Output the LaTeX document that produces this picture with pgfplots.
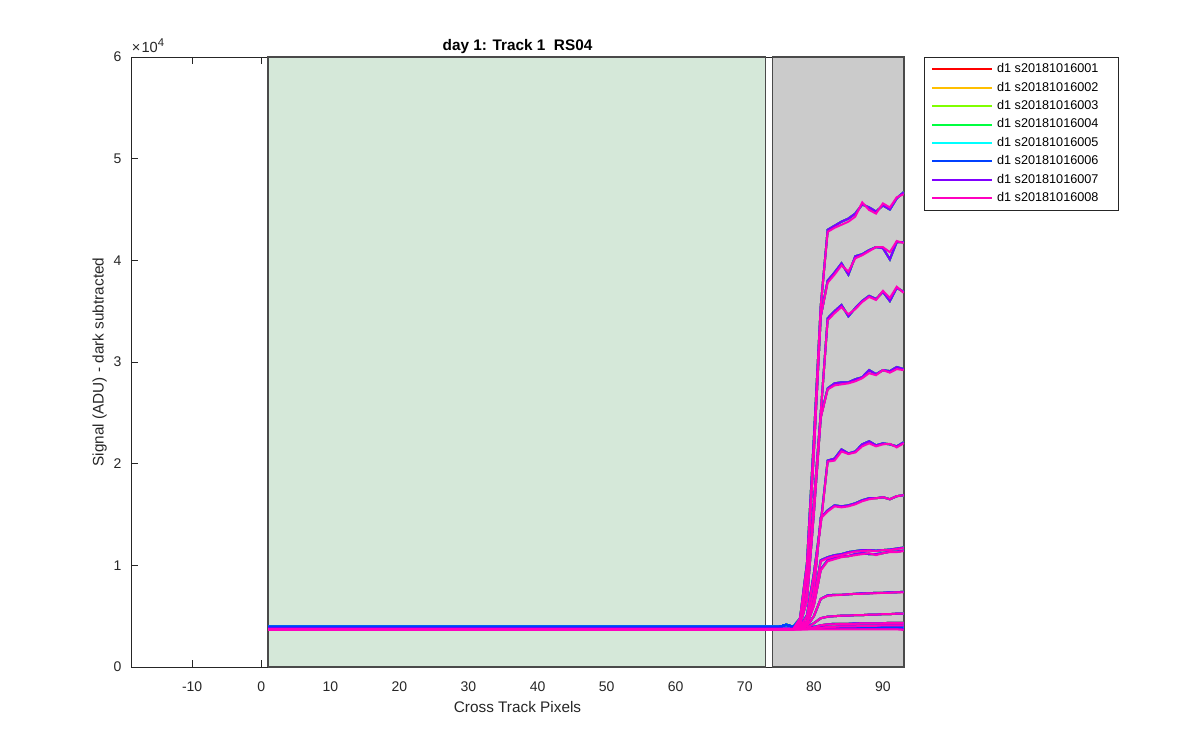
\documentclass[border=0pt]{standalone}
\usepackage{fontspec}
\setmainfont{Liberation Sans}
\usepackage{pgfplots}
\pgfplotsset{compat=1.18}
\usepackage{pgfplotstable}

\definecolor{s1}{HTML}{FF0000}
\definecolor{s2}{HTML}{FFBF00}
\definecolor{s3}{HTML}{80FF00}
\definecolor{s4}{HTML}{00FF40}
\definecolor{s5}{HTML}{00FFFF}
\definecolor{s6}{HTML}{0040FF}
\definecolor{s7}{HTML}{8000FF}
\definecolor{s8}{HTML}{FF00BF}
\definecolor{axc}{HTML}{262626}
\definecolor{greenbg}{HTML}{D5E8D9}
\definecolor{graybg}{HTML}{CBCBCB}
\definecolor{edgec}{HTML}{4A4A4A}

% magenta (series 8)
\pgfplotstableread{
x c1 c2 c3 c4 c5 c6 c7 c8 c9 c10 c11 c12 c13
1 3700 3700 3700 3700 3700 3700 3700 3700 3700 3700 3700 3700 3700
10 3700 3700 3700 3700 3700 3700 3700 3700 3700 3700 3700 3700 3700
20 3700 3700 3700 3700 3700 3700 3700 3700 3700 3700 3700 3700 3700
30 3700 3700 3700 3700 3700 3700 3700 3700 3700 3700 3700 3700 3700
40 3700 3700 3700 3700 3700 3700 3700 3700 3700 3700 3700 3700 3700
50 3700 3700 3700 3700 3700 3700 3700 3700 3700 3700 3700 3700 3700
60 3700 3700 3700 3700 3700 3700 3700 3700 3700 3700 3700 3700 3700
70 3700 3700 3700 3700 3700 3700 3700 3700 3700 3700 3700 3700 3700
75 3700 3700 3700 3700 3700 3700 3700 3700 3700 3700 3700 3700 3700
76 3700 3700 3700 3700 3700 3700 3700 3700 3700 3700 3700 3700 3700
77 3700 3700 3700 3700 3700 3700 3700 3700 3700 3700 3700 3700 3700
78 4800 4600 4400 4100 3900 3900 3800 3800 3750 3700 3700 3700 3700
79 10000 9000 7500 6500 5000 4500 4300 4200 4000 3800 3750 3700 3700
80 22000 21000 16000 15000 9000 7500 6500 6000 5000 4300 3900 3800 3700
81 35500 34500 25000 24500 14000 14600 10400 9500 6700 4800 4100 3850 3700
82 42800 37800 34100 27300 20200 15300 10700 10400 7000 4950 4200 3950 3700
83 43200 38600 34800 27700 20300 15800 10900 10600 7050 5000 4200 3950 3700
84 43500 39500 35400 27800 21200 15700 11000 10800 7100 5050 4250 4000 3700
85 43800 38900 34700 27900 20950 15800 11200 10900 7150 5050 4250 4000 3700
86 44300 40200 35200 28100 21100 16000 11350 11000 7200 5100 4250 4000 3700
87 45700 40500 35900 28400 21700 16300 11400 11100 7200 5100 4300 4050 3700
88 44950 40900 36400 28900 22000 16500 11450 11200 7250 5150 4300 4050 3700
89 44600 41300 36100 28700 21700 16600 11400 11000 7250 5150 4300 4050 3700
90 45600 41300 37000 29200 21900 16700 11500 11200 7300 5200 4300 4100 3700
91 45200 40800 36300 28950 21950 16500 11500 11300 7300 5200 4350 4100 3700
92 46200 41900 37400 29300 21600 16800 11600 11300 7350 5250 4350 4100 3700
93 46500 41700 36800 29200 22000 16900 11700 11400 7350 5250 4350 4100 3650
}\tabM

% purple (series 7)
\pgfplotstableread{
x c1 c2 c3 c4 c5 c6 c7 c8 c9 c10 c11 c12 c13
1 3750 3750 3750 3750 3750 3750 3750 3750 3750 3750 3750 3750 3750
10 3750 3750 3750 3750 3750 3750 3750 3750 3750 3750 3750 3750 3750
20 3750 3750 3750 3750 3750 3750 3750 3750 3750 3750 3750 3750 3750
30 3750 3750 3750 3750 3750 3750 3750 3750 3750 3750 3750 3750 3750
40 3750 3750 3750 3750 3750 3750 3750 3750 3750 3750 3750 3750 3750
50 3750 3750 3750 3750 3750 3750 3750 3750 3750 3750 3750 3750 3750
60 3750 3750 3750 3750 3750 3750 3750 3750 3750 3750 3750 3750 3750
70 3750 3750 3750 3750 3750 3750 3750 3750 3750 3750 3750 3750 3750
75 3750 3750 3750 3750 3750 3750 3750 3750 3750 3750 3750 3750 3750
76 3750 3750 3750 3750 3750 3750 3750 3750 3750 3750 3750 3750 3750
77 3750 3750 3750 3750 3750 3750 3750 3750 3750 3750 3750 3750 3750
78 4800 4600 4400 4100 3900 3900 3800 3800 3750 3750 3750 3750 3750
79 10200 9200 7600 6600 5100 4500 4300 4200 4000 3800 3750 3750 3750
80 22500 21200 16200 15200 9200 7600 6600 6100 5000 4300 3900 3800 3750
81 35500 34500 25000 24600 14200 14700 10500 9600 6700 4800 4100 3850 3750
82 43000 38000 34300 27400 20300 15400 10800 10500 7050 4950 4200 3950 3750
83 43400 38800 35000 27900 20500 15900 11000 10700 7100 5000 4250 3950 3750
84 43800 39700 35600 28000 21400 15800 11100 10900 7100 5050 4250 4000 3750
85 44100 38600 34500 28000 21000 15900 11300 10900 7150 5050 4250 4000 3750
86 44600 40400 35300 28300 21200 16100 11400 11100 7200 5100 4300 4000 3750
87 45500 40600 36000 28500 21900 16400 11500 11200 7250 5100 4300 4050 3750
88 45200 41000 36500 29200 22200 16600 11500 11100 7250 5150 4300 4050 3750
89 44800 41300 36200 28800 21800 16600 11450 11100 7300 5150 4300 4050 3750
90 45400 41200 36900 29200 22000 16700 11500 11200 7300 5200 4300 4100 3750
91 45000 40100 36000 29100 21900 16500 11550 11350 7350 5200 4350 4100 3750
92 46100 41800 37300 29500 21700 16800 11650 11350 7350 5250 4350 4100 3750
93 46700 41800 36900 29300 22100 16900 11750 11450 7400 5250 4350 4100 3750
}\tabP

% series 1-6
\pgfplotstableread{
x c1 c2 c3 c4 c5 c6 c7 c8 c9 c10 c11 c12 c13
1 3950 3950 3950 3950 3950 3950 3950 3950 3950 3950 3950 3950 3950
10 3950 3950 3950 3950 3950 3950 3950 3950 3950 3950 3950 3950 3950
20 3950 3950 3950 3950 3950 3950 3950 3950 3950 3950 3950 3950 3950
30 3950 3950 3950 3950 3950 3950 3950 3950 3950 3950 3950 3950 3950
40 3950 3950 3950 3950 3950 3950 3950 3950 3950 3950 3950 3950 3950
50 3950 3950 3950 3950 3950 3950 3950 3950 3950 3950 3950 3950 3950
60 3950 3950 3950 3950 3950 3950 3950 3950 3950 3950 3950 3950 3950
70 3950 3950 3950 3950 3950 3950 3950 3950 3950 3950 3950 3950 3950
75 3950 3950 3950 3950 3950 3950 3950 3950 3950 3950 3950 3950 3950
76 4150 4150 4150 4150 4150 4150 4150 4150 4150 4150 4150 4150 4150
77 3950 3950 3950 3950 3950 3950 3950 3950 3950 3950 3950 3950 3950
78 4800 4600 4400 4100 3950 3950 3950 3950 3950 3950 3950 3950 3950
79 10200 9200 7600 6600 5100 4500 4300 4200 4000 3950 3950 3950 3950
80 22500 21200 16200 15200 9200 7600 6600 6100 5000 4300 3950 3950 3950
81 35500 34500 25000 24600 14200 14700 10500 9600 6700 4800 4100 3950 3950
82 43000 38000 34300 27400 20300 15400 10800 10500 7050 4950 4200 3950 3950
83 43400 38800 35000 27900 20500 15900 11000 10700 7100 5000 4250 3950 3950
84 43800 39700 35600 28000 21400 15800 11100 10900 7100 5050 4250 4000 3950
85 44100 38600 34500 28000 21000 15900 11300 10900 7150 5050 4250 4000 3950
86 44600 40400 35300 28300 21200 16100 11400 11100 7200 5100 4300 4000 3950
87 45500 40600 36000 28500 21900 16400 11500 11200 7250 5100 4300 4050 3950
88 45200 41000 36500 29200 22200 16600 11500 11100 7250 5150 4300 4050 3950
89 44800 41300 36200 28800 21800 16600 11450 11100 7300 5150 4300 4050 3950
90 45400 41200 36900 29200 22000 16700 11500 11200 7300 5200 4300 4100 3950
91 45000 40100 36000 29100 21900 16500 11550 11350 7350 5200 4350 4100 3950
92 46100 41800 37300 29500 21700 16800 11650 11350 7350 5250 4350 4100 3950
93 46700 41800 36900 29300 22100 16900 11750 11450 7400 5250 4350 4100 3950
}\tabB

\newcommand{\series}[3]{%
  \addplot[#1, line width=1.5pt] table[x=x,y=c1]{#2};
  \addlegendentry{\makebox[86pt][l]{#3}}
  \pgfplotsinvokeforeach{2,...,13}{%
    \addplot[#1, line width=1.5pt, forget plot] table[x=x,y=c##1]{#2};
  }%
}

\begin{document}
\begin{tikzpicture}
\path[use as bounding box] (0,0) rectangle (900pt,562.5pt);
\begin{axis}[
  at={(98.25pt,62.25pt)}, anchor=south west,
  scale only axis, width=579.75pt, height=457.5pt,
  xmin=-18.85, xmax=93.05, ymin=0, ymax=60000,
  clip=false,
  xtick={-10,0,10,20,30,40,50,60,70,80,90},
  xticklabels={-10,0,10,20,30,40,50,60,70,80,90},
  ytick={0,10000,20000,30000,40000,50000,60000},
  yticklabels={0,1,2,3,4,5,6},
  scaled y ticks=false,
  tick align=inside,
  major tick length=5.5pt,
  tick style={axc, line width=0.6pt},
  axis line style={axc, line width=0.6pt},
  xticklabel style={font=\fontsize{10.5}{12}\selectfont, text=axc, inner sep=0pt, anchor=north, yshift=-10.5pt},
  yticklabel style={font=\fontsize{10.5}{12}\selectfont, text=axc, inner sep=0pt, anchor=east, xshift=-7pt},
  xlabel={Cross Track Pixels},
  ylabel={Signal (ADU) - dark subtracted},
  xlabel style={at={(axis description cs:0.5,0)}, anchor=base, yshift=-34pt, inner sep=0pt, font=\fontsize{11.5}{13}\selectfont, text=axc},
  ylabel style={at={(axis description cs:-0.0355,0.5)}, anchor=base, inner sep=0pt, font=\fontsize{11.5}{13}\selectfont, text=axc},
  title={day 1: Track 1~~RS04},
  every axis title shift=0pt,
  title style={at={(axis description cs:0.5,1)}, anchor=base, yshift=4.8pt, inner sep=0pt, font=\fontsize{11.5}{13}\selectfont\bfseries, text=black},
  legend style={at={(1.0259,1)}, anchor=north west, draw=axc, line width=0.6pt, fill=white,
    inner xsep=5pt, inner ysep=4.25pt, row sep=4.3pt, column sep=3pt,
    font=\fontsize{9.5}{11}\selectfont, text=black,
    nodes={inner sep=0pt, text height=7.2pt, text depth=2.3pt},
    cells={anchor=west}},
  legend image code/.code={\draw[#1] (0pt,0pt) -- (45pt,0pt);},
]
\addplot[fill=greenbg, draw=edgec, line width=1pt, forget plot] coordinates {(1,0) (1,60000) (73,60000) (73,0) (1,0)};
\addplot[fill=graybg, draw=edgec, line width=1pt, forget plot] coordinates {(74,0) (74,60000) (93.05,60000) (93.05,0) (74,0)};

\series{s1}{\tabB}{d1 s20181016001}
\series{s2}{\tabB}{d1 s20181016002}
\series{s3}{\tabB}{d1 s20181016003}
\series{s4}{\tabB}{d1 s20181016004}
\series{s5}{\tabB}{d1 s20181016005}
\series{s6}{\tabB}{d1 s20181016006}
\series{s7}{\tabP}{d1 s20181016007}
\series{s8}{\tabM}{d1 s20181016008}

\node[anchor=base west, inner sep=0pt, text=axc, font=\fontsize{11}{13}\selectfont, yshift=3.3pt, xshift=0.5pt] at (axis description cs:0,1) {×\kern0.8pt10\raisebox{4.8pt}{\fontsize{8.5}{10}\selectfont 4}};
\end{axis}
\end{tikzpicture}
\end{document}
